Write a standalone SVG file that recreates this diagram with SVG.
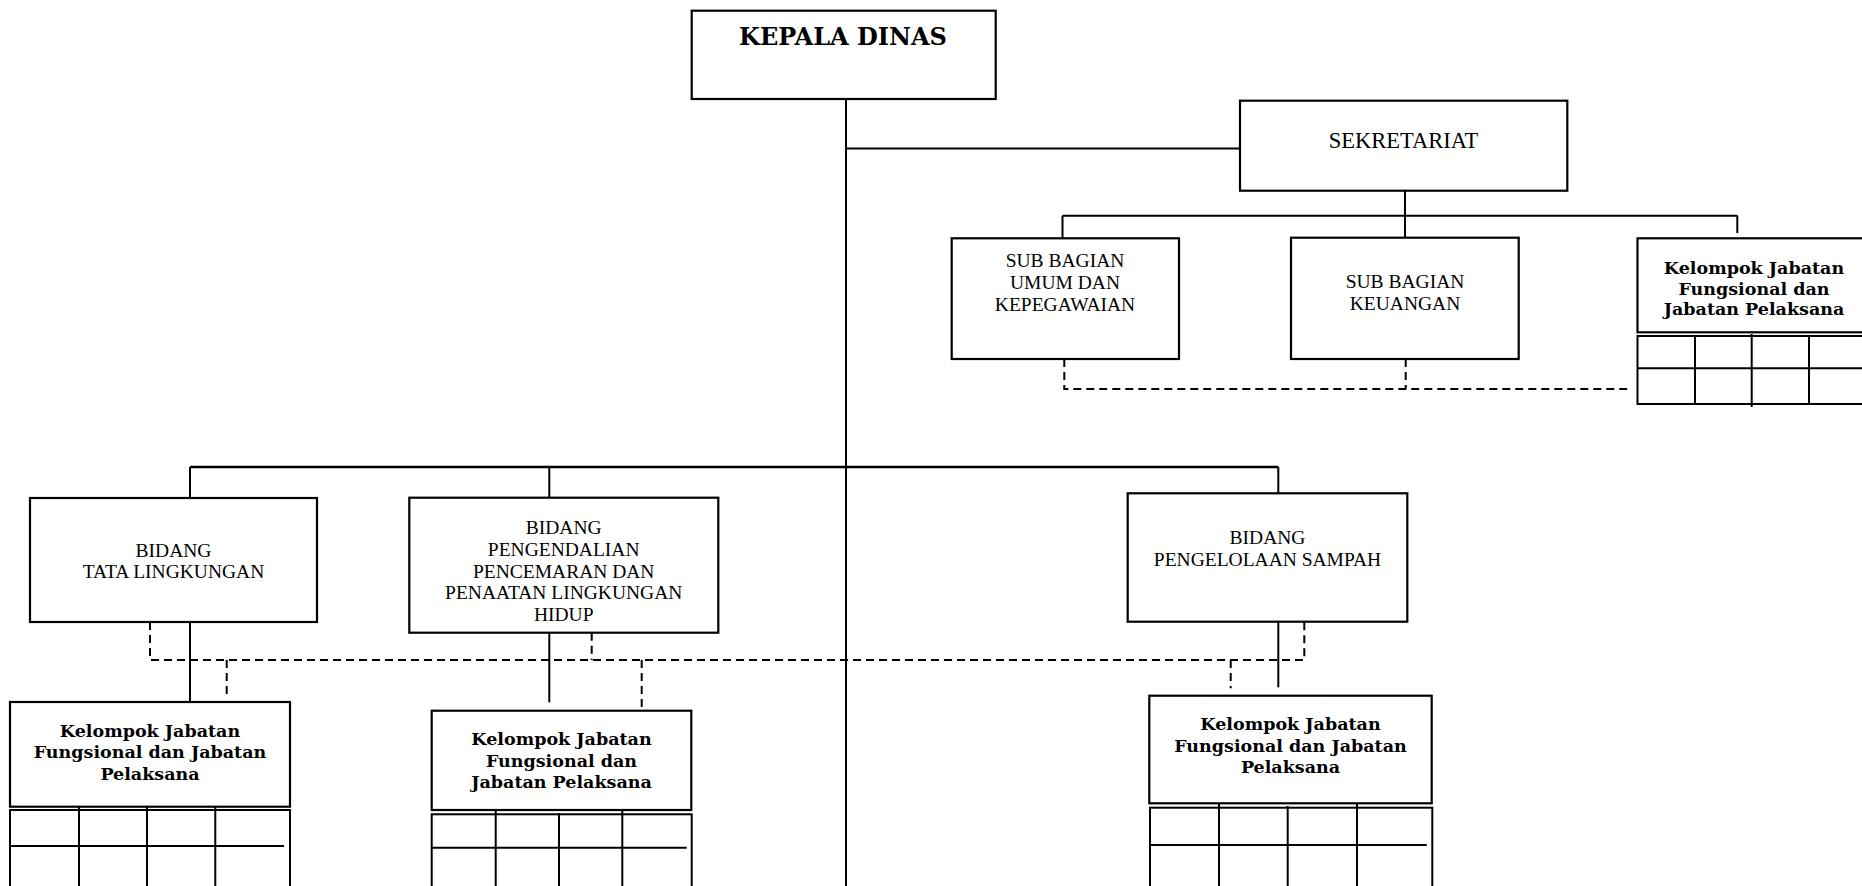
<svg xmlns="http://www.w3.org/2000/svg" width="1862" height="886" viewBox="0 0 1862 886">
<style>
.box{fill:#fff;stroke:#000;stroke-width:2.2}
.ln{fill:none;stroke:#000;stroke-width:2}
.dash{fill:none;stroke:#000;stroke-width:2;stroke-dasharray:8 5}
.t{font-family:"Liberation Serif","DejaVu Serif",serif;font-size:19.5px;text-anchor:middle;fill:#000}
.tb{font-family:"DejaVu Serif","Liberation Serif",serif;font-weight:bold;font-size:17.5px;text-anchor:middle;fill:#000}
.grid{fill:none;stroke:#000;stroke-width:2}
</style>
<rect width="1862" height="886" fill="#fff"/>
<g id="connectors">
<line class="ln" x1="846" y1="99" x2="846" y2="886"/>
<line class="ln" x1="846" y1="148.5" x2="1240" y2="148.5"/>
<line class="ln" x1="1405" y1="190.7" x2="1405" y2="237.7"/>
<line class="ln" x1="1062.5" y1="215.7" x2="1737.5" y2="215.7"/>
<line class="ln" x1="1062.5" y1="215.7" x2="1062.5" y2="238.3"/>
<line class="ln" x1="1737.3" y1="215.7" x2="1737.3" y2="233"/>
<line class="ln" x1="190" y1="467" x2="1278.3" y2="467" style="stroke-width:2.4"/>
<line class="ln" x1="190" y1="467" x2="190" y2="498"/>
<line class="ln" x1="549.3" y1="467" x2="549.3" y2="497.7"/>
<line class="ln" x1="1278.3" y1="467" x2="1278.3" y2="493.3"/>
<line class="ln" x1="190" y1="622" x2="190" y2="702"/>
<line class="ln" x1="549.3" y1="632.7" x2="549.3" y2="702.3"/>
<line class="ln" x1="1278.3" y1="621.7" x2="1278.3" y2="687.3"/>
<path class="dash" d="M1064.3 359 V389 H1632 M1405.7 359 V389"/>
<path class="dash" d="M150 622 V660 H1304.3 V622 M226.7 660 V698 M591.7 632.7 V660 M641.7 660 V708.3 M1230.7 660 V688.3"/>
</g>
<g id="kepala-dinas">
<rect class="box" x="691.7" y="10.7" width="304" height="88.3"/>
<text class="tb" x="843" y="44.5" style="font-size:24px">KEPALA DINAS</text>
</g>
<g id="sekretariat">
<rect class="box" x="1240" y="100.7" width="327.3" height="90"/>
<text class="t" x="1403.5" y="148.3" style="font-size:22.5px">SEKRETARIAT</text>
</g>
<g id="sub-umum">
<rect class="box" x="951.7" y="238.3" width="227.3" height="120.7"/>
<text class="t" x="1065" y="266.7">SUB BAGIAN</text>
<text class="t" x="1065" y="288.7">UMUM DAN</text>
<text class="t" x="1065" y="310.7">KEPEGAWAIAN</text>
</g>
<g id="sub-keuangan">
<rect class="box" x="1291" y="237.7" width="227.7" height="121.3"/>
<text class="t" x="1405" y="288.3">SUB BAGIAN</text>
<text class="t" x="1405" y="310">KEUANGAN</text>
</g>
<g id="kelompok-sekretariat">
<rect class="box" x="1637.5" y="238.3" width="240" height="94"/>
<text class="tb" x="1754" y="274">Kelompok Jabatan</text>
<text class="tb" x="1754" y="294.5">Fungsional dan</text>
<text class="tb" x="1754" y="315">Jabatan Pelaksana</text>
<rect class="grid" x="1637.5" y="336" width="240" height="68"/>
<line class="grid" x1="1637.5" y1="368.3" x2="1862" y2="368.3"/>
<line class="grid" x1="1695" y1="336" x2="1695" y2="404"/>
<line class="grid" x1="1751.7" y1="334" x2="1751.7" y2="407"/>
<line class="grid" x1="1809" y1="336" x2="1809" y2="404"/>
</g>
<g id="bidang-tata-lingkungan">
<rect class="box" x="30" y="498" width="287" height="124"/>
<text class="t" x="173.5" y="557">BIDANG</text>
<text class="t" x="173.5" y="578">TATA LINGKUNGAN</text>
</g>
<g id="bidang-pengendalian">
<rect class="box" x="409.3" y="497.7" width="309" height="135"/>
<text class="t" x="563.7" y="534">BIDANG</text>
<text class="t" x="563.7" y="556">PENGENDALIAN</text>
<text class="t" x="563.7" y="577.7">PENCEMARAN DAN</text>
<text class="t" x="563.7" y="599.3">PENAATAN LINGKUNGAN</text>
<text class="t" x="563.7" y="621.3">HIDUP</text>
</g>
<g id="bidang-sampah">
<rect class="box" x="1127.7" y="493.3" width="279.6" height="128.4"/>
<text class="t" x="1267.5" y="544.3">BIDANG</text>
<text class="t" x="1267.5" y="565.7">PENGELOLAAN SAMPAH</text>
</g>
<g id="kelompok-tata">
<rect class="box" x="10" y="702" width="280" height="104.7"/>
<text class="tb" x="150" y="737.3">Kelompok Jabatan</text>
<text class="tb" x="150" y="758.3">Fungsional dan Jabatan</text>
<text class="tb" x="150" y="780">Pelaksana</text>
<rect class="grid" x="10" y="810" width="280" height="90"/>
<line class="grid" x1="10" y1="846" x2="284" y2="846"/>
<line class="grid" x1="79" y1="807" x2="79" y2="886"/>
<line class="grid" x1="147" y1="807" x2="147" y2="886"/>
<line class="grid" x1="215.3" y1="807" x2="215.3" y2="886"/>
</g>
<g id="kelompok-pengendalian">
<rect class="box" x="431.7" y="710.7" width="259.6" height="99.3"/>
<text class="tb" x="561.5" y="745">Kelompok Jabatan</text>
<text class="tb" x="561.5" y="766.7">Fungsional dan</text>
<text class="tb" x="561.5" y="788.3">Jabatan Pelaksana</text>
<rect class="grid" x="431.7" y="814.3" width="260" height="90"/>
<line class="grid" x1="431.7" y1="847.7" x2="686.7" y2="847.7"/>
<line class="grid" x1="495.7" y1="811" x2="495.7" y2="886"/>
<line class="grid" x1="559" y1="813" x2="559" y2="886"/>
<line class="grid" x1="622.3" y1="811" x2="622.3" y2="886"/>
</g>
<g id="kelompok-sampah">
<rect class="box" x="1149.3" y="695.7" width="282.4" height="107.6"/>
<text class="tb" x="1290.5" y="730">Kelompok Jabatan</text>
<text class="tb" x="1290.5" y="751.7">Fungsional dan Jabatan</text>
<text class="tb" x="1290.5" y="773.3">Pelaksana</text>
<rect class="grid" x="1150" y="807.7" width="282.3" height="90"/>
<line class="grid" x1="1150" y1="845" x2="1426.7" y2="845"/>
<line class="grid" x1="1219" y1="804" x2="1219" y2="886"/>
<line class="grid" x1="1287.7" y1="806" x2="1287.7" y2="886"/>
<line class="grid" x1="1357" y1="804" x2="1357" y2="886"/>
</g>
</svg>
